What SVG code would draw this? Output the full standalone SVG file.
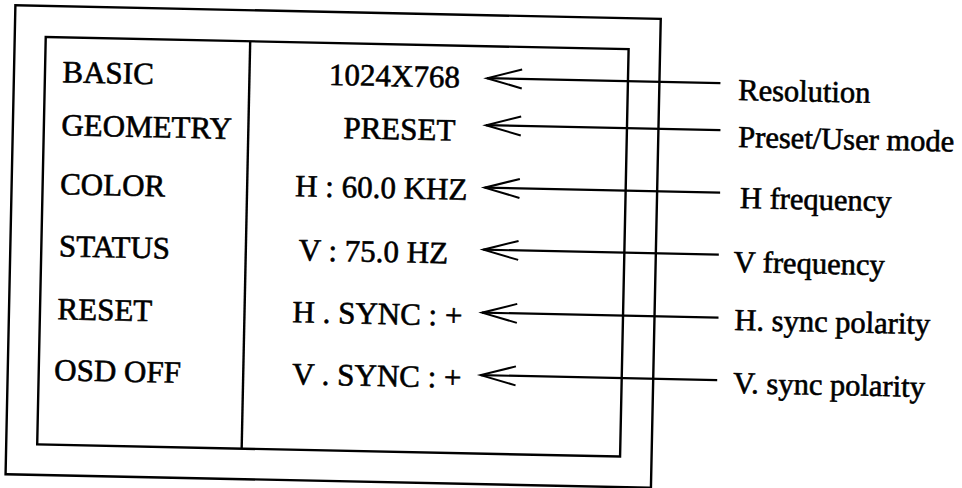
<svg xmlns="http://www.w3.org/2000/svg" width="962" height="488" viewBox="0 0 962 488">
<style>
.frame{fill:none;stroke:#000;stroke-width:2.4}
.t{font-family:"Liberation Serif","Times New Roman",serif;font-size:31px;fill:#000;stroke:#000;stroke-width:0.6}
.c{text-anchor:middle}
.lab{font-family:"Liberation Serif","Times New Roman",serif;font-size:30.5px;fill:#000;stroke:#000;stroke-width:0.6}
.arr{fill:none;stroke:#000;stroke-width:2.2;marker-end:url(#vhead)}
</style>
<defs>
<marker id="vhead" markerUnits="userSpaceOnUse" viewBox="-37 -11 39 22" refX="0" refY="0" markerWidth="39" markerHeight="22" orient="auto" overflow="visible">
<path d="M-35,-9.5 L0,0 L-35,9.5" fill="none" stroke="#000" stroke-width="2"/>
</marker>
</defs>
<rect width="962" height="488" fill="#fff"/>
<g transform="rotate(1.2)">
<g id="outer-frame"><rect class="frame" x="15.5" y="5" width="645.5" height="469"/></g>
<g id="osd-panel">
<rect class="frame" x="46.5" y="36" width="583" height="407.5"/>
<line class="frame" x1="251" y1="36" x2="251" y2="443.5"/>
</g>
<g id="menu">
<text class="t" x="64" y="81">BASIC</text>
<text class="t" x="64" y="134">GEOMETRY</text>
<text class="t" x="64" y="193">COLOR</text>
<text class="t" x="64" y="255">STATUS</text>
<text class="t" x="64" y="318">RESET</text>
<text class="t" x="62" y="379">OSD OFF</text>
</g>
<g id="status-values">
<text class="t c" x="396" y="78">1024X768</text>
<text class="t c" x="402" y="131">PRESET</text>
<text class="t" x="299" y="190">H : 60.0 KHZ</text>
<text class="t" x="304" y="254">V : 75.0 HZ</text>
<text class="t" x="299" y="316">H . SYNC : +</text>
<text class="t" x="300" y="378">V . SYNC : +</text>
</g>
<g id="labels">
<text class="lab" x="740" y="84.5">Resolution</text>
<text class="lab" x="741" y="131.5">Preset/User mode</text>
<text class="lab" x="744" y="192.5">H frequency</text>
<text class="lab" x="739" y="256.5">V frequency</text>
<text class="lab" x="741" y="314.5">H. sync polarity</text>
<text class="lab" x="741" y="377.5">V. sync polarity</text>
</g>
<g id="connectors">
<line class="arr" x1="722" y1="68" x2="488.5" y2="68"/>
<line class="arr" x1="723" y1="115" x2="488.5" y2="115"/>
<line class="arr" x1="724" y1="177.5" x2="488.5" y2="177.5"/>
<line class="arr" x1="724" y1="239.5" x2="488.5" y2="239.5"/>
<line class="arr" x1="725" y1="302.5" x2="488.5" y2="302.5"/>
<line class="arr" x1="725" y1="365" x2="488.5" y2="365"/>
</g>
</g>
</svg>
